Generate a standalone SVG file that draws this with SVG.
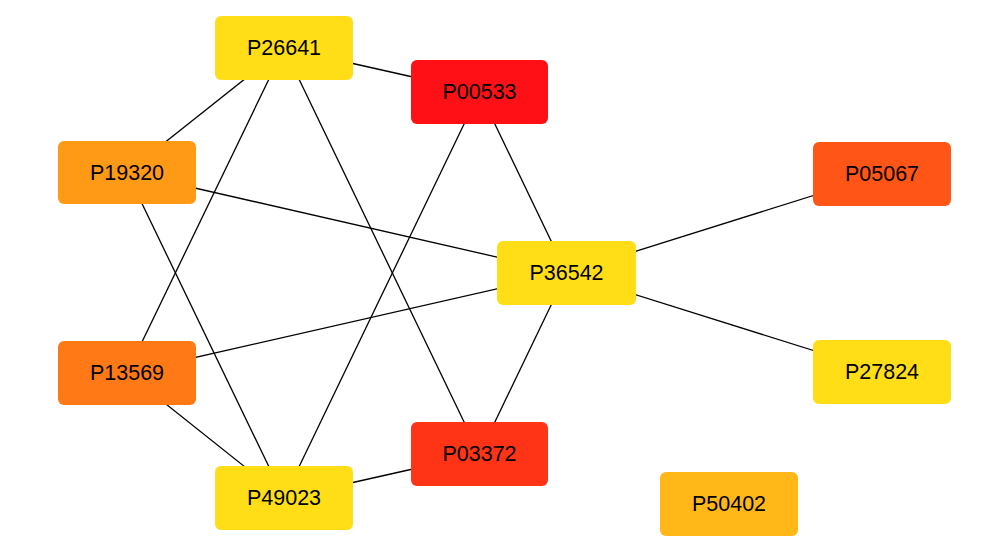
<svg xmlns="http://www.w3.org/2000/svg" width="993" height="560" viewBox="0 0 993 560">
<style>
.n rect{rx:6px;ry:6px}
.n text{font-family:"Liberation Sans",Arial,sans-serif;font-size:21.5px;fill:#000;text-anchor:middle;dominant-baseline:central}
#edges line{stroke:#000;stroke-width:1.3}
</style>
<rect width="993" height="560" fill="#fff"/>
<g id="edges">
<line x1="284" y1="48" x2="479.5" y2="92"/>
<line x1="284" y1="48" x2="127" y2="172.5"/>
<line x1="284" y1="48" x2="127" y2="373"/>
<line x1="284" y1="48" x2="479.5" y2="454"/>
<line x1="479.5" y1="92" x2="566.5" y2="273"/>
<line x1="479.5" y1="92" x2="284" y2="498"/>
<line x1="127" y1="172.5" x2="566.5" y2="273"/>
<line x1="127" y1="172.5" x2="284" y2="498"/>
<line x1="127" y1="373" x2="566.5" y2="273"/>
<line x1="127" y1="373" x2="284" y2="498"/>
<line x1="284" y1="498" x2="479.5" y2="454"/>
<line x1="479.5" y1="454" x2="566.5" y2="273"/>
<line x1="566.5" y1="273" x2="882" y2="174"/>
<line x1="566.5" y1="273" x2="882" y2="372"/>
</g>
<g id="P26641" class="n"><rect x="215" y="16" width="138" height="64" fill="#FFDE17"/><text x="284" y="48">P26641</text></g>
<g id="P00533" class="n"><rect x="411" y="60" width="137" height="64" fill="#FF1017"/><text x="479.5" y="92">P00533</text></g>
<g id="P19320" class="n"><rect x="58" y="141" width="138" height="63" fill="#FF9A17"/><text x="127" y="172.5">P19320</text></g>
<g id="P05067" class="n"><rect x="813" y="142" width="138" height="64" fill="#FF5517"/><text x="882" y="174">P05067</text></g>
<g id="P36542" class="n"><rect x="497" y="241" width="139" height="64" fill="#FFDE17"/><text x="566.5" y="273">P36542</text></g>
<g id="P13569" class="n"><rect x="58" y="341" width="138" height="64" fill="#FF7A17"/><text x="127" y="373">P13569</text></g>
<g id="P27824" class="n"><rect x="813" y="340" width="138" height="64" fill="#FFDE17"/><text x="882" y="372">P27824</text></g>
<g id="P03372" class="n"><rect x="411" y="422" width="137" height="64" fill="#FF3417"/><text x="479.5" y="454">P03372</text></g>
<g id="P49023" class="n"><rect x="215" y="466" width="138" height="64" fill="#FFDE17"/><text x="284" y="498">P49023</text></g>
<g id="P50402" class="n"><rect x="660" y="472" width="138" height="64" fill="#FFB817"/><text x="729" y="504">P50402</text></g>
</svg>
